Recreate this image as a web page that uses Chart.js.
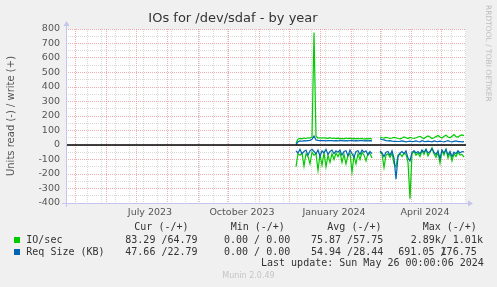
<!DOCTYPE html>
<html>
<head>
<meta charset="utf-8">
<script src="https://cdn.jsdelivr.net/npm/chart.js@4.4.0/dist/chart.umd.min.js"></script>
<style>
  html, body { margin: 0; padding: 0; background: #f0f0f0; }
  #wrap { position: relative; width: 497px; height: 287px; overflow: hidden; background: #f0f0f0; }
  #chart { position: absolute; left: 0; top: 0; }
  .t { position: absolute; font: 10px "DejaVu Sans Mono", monospace; color: #333; white-space: pre; line-height: 12px; }
  .sq { position: absolute; width: 6px; height: 6px; }
  #rrd { position: absolute; left: 492px; top: 5px; transform-origin: top left; transform: rotate(90deg);
         font: 7.5px "DejaVu Sans", sans-serif; line-height: 8px; color: #bdbdbd; white-space: pre; }
  #munin { position: absolute; left: 0; width: 497px; top: 271px; text-align: center;
           font: 8px "DejaVu Sans", sans-serif; line-height: 10px; color: #c4c4c4; }
</style>
</head>
<body>
<div id="wrap">
  <canvas id="chart" width="497" height="287"></canvas>
  <div id="rrd">RRDTOOL / TOBI OETIKER</div>

  <div class="t" style="left:134.3px; top:221px">Cur (-/+)</div>
  <div class="t" style="left:230.7px; top:221px">Min (-/+)</div>
  <div class="t" style="left:327.3px; top:221px">Avg (-/+)</div>
  <div class="t" style="left:422.7px; top:221px">Max (-/+)</div>

  <div class="sq" style="left:14px; top:237px; background:#00cc00"></div>
  <div class="t" style="left:26.3px; top:234px">IO/sec</div>
  <div class="t" style="left:125.3px; top:234px">83.29 /64.79</div>
  <div class="t" style="left:224px; top:234px">0.00 / 0.00</div>
  <div class="t" style="left:311px; top:234px">75.87 /57.75</div>
  <div class="t" style="left:410.7px; top:234px">2.89k/ 1.01k</div>

  <div class="sq" style="left:14px; top:249px; background:#0066b3"></div>
  <div class="t" style="left:26.3px; top:246px">Req Size (KB)</div>
  <div class="t" style="left:125.3px; top:246px">47.66 /22.79</div>
  <div class="t" style="left:224px; top:246px">0.00 / 0.00</div>
  <div class="t" style="left:311px; top:246px">54.94 /28.44</div>
  <div class="t" style="left:398.3px; top:246px">691.05 /</div>
  <div class="t" style="left:440.6px; top:246px">176.75</div>

  <div class="t" style="left:261px; top:257px">Last update: Sun May 26 00:00:06 2024</div>
  <div id="munin">Munin 2.0.49</div>
</div>

<script>
// days counted from the left edge of the 400-day window (22 Apr 2023)
const firstDay = 230;
const stepDays = 2;

// IO/sec, write side (+) and read side (-)
const ioWrite = [15, 40, 45, 42, 48, 45, 50, 47, 55, 775, 60, 48, 50, 47, 50, 48, 46, 50, 45, 48,
                 44, 47, 43, 46, 42, 48, 44, 47, 43, 45, 42, 46, 43, 45, 40, 44, 42, 45, 40,
                 null, null, null,
                 55, 50, 48, 52, 50, 45, 48, 52, 50, 45, 42, 48, 55, 50, 45, 52, 48, 45, 50, 55,
                 60, 50, 45, 55, 62, 55, 45, 50, 58, 65, 55, 48, 60, 68, 55, 50, 60, 72, 58, 55,
                 65, 70, 65];
const ioRead = [-150, -60, -70, -55, -145, -60, -80, -130, -50, -70, -60, -175, -65, -140, -55,
                -150, -70, -120, -60, -100, -55, -80, -50, -120, -65, -130, -70, -60, -185, -75,
                -130, -60, -100, -50, -70, -110, -55, -60, -90,
                null, null, null,
                -50, -60, -155, -70, -60, -85, -55, -130, -150, -70, -60, -80, -55, -65, -120,
                -370, -60, -45, -70, -55, -80, -40, -65, -30, -75, -50, -20, -60, -85, -50,
                -125, -40, -70, -30, -90, -55, -110, -60, -80, -50, -70, -65, -83];

// Req Size (KB), write side (+) and read side (-)
const reqWrite = [5, 22, 28, 26, 30, 28, 30, 32, 40, 62, 35, 32, 30, 31, 30, 29, 30, 31, 30, 28,
                  30, 29, 31, 30, 28, 30, 29, 31, 30, 28, 30, 29, 30, 31, 28, 30, 29, 30, 28,
                  null, null, null,
                  42, 38, 35, 30, 28, 30, 27, 25, 26, 24, 25, 28, 25, 22, 24, 26, 23, 25, 28, 24,
                  22, 30, 25, 23, 26, 24, 22, 28, 25, 23, 27, 24, 22, 26, 30, 24, 22, 25, 28, 23,
                  24, 22, 23];
const reqRead = [-40, -55, -30, -60, -45, -35, -70, -40, -30, -45, -60, -35, -80, -40, -55,
                 -30, -65, -45, -35, -60, -40, -50, -35, -70, -45, -40, -75, -35, -60, -85,
                 -45, -40, -65, -35, -50, -40, -70, -45, -60,
                 null, null, null,
                 -40, -55, -80, -50, -45, -70, -40, -90, -235, -80, -55, -45, -60, -40, -90,
                 -110, -50, -40, -55, -45, -60, -35, -50, -30, -55, -45, -25, -50, -65, -40,
                 -95, -35, -55, -30, -70, -45, -80, -50, -60, -40, -55, -45, -48];

// x axis: month starts (red grid), mid-month label positions
const monthStartDays = [9, 40, 70, 101, 132, 162, 193, 223, 254, 285, 314, 345, 375];
const labelDays = [84, 176, 268, 359];
const labelTexts = ['July 2023', 'October 2023', 'January 2024', 'April 2024'];

// y axis
const yMin = -400, yMax = 800, yMinorStep = 50, yMajorStep = 100;

const MAJOR = 'rgba(225,110,110,0.55)';
const MINOR = 'rgba(170,170,170,0.45)';
const AXIS = '#c4c4ee';

const toPoints = vals => vals.map((v, i) => ({ x: firstDay + i * stepDays, y: v }));

const xKind = new Map();
for (let d = 21.5; d < 400; d += 14) xKind.set(d, 'minor');
monthStartDays.forEach(d => xKind.set(d, 'major'));
labelDays.forEach((d, i) => xKind.set(d, labelTexts[i]));

const munBg = {
    id: 'munBg',
    beforeDraw(chart) {
        const { ctx, chartArea: a } = chart;
        ctx.save();
        ctx.fillStyle = '#f0f0f0';
        ctx.fillRect(0, 0, chart.width, chart.height);
        ctx.fillStyle = '#ffffff';
        ctx.fillRect(a.left, a.top, a.right - a.left, a.bottom - a.top);
        ctx.restore();
    },
    afterDatasetsDraw(chart) {
        const { ctx, chartArea: a } = chart;
        const y0 = chart.scales.y.getPixelForValue(0);
        ctx.save();
        // zero line
        ctx.strokeStyle = '#000';
        ctx.lineWidth = 1.6;
        ctx.beginPath();
        ctx.moveTo(a.left, y0);
        ctx.lineTo(a.right, y0);
        ctx.stroke();
        // axes with arrows
        ctx.strokeStyle = AXIS;
        ctx.fillStyle = AXIS;
        ctx.lineWidth = 1;
        ctx.beginPath();
        ctx.moveTo(a.left + 0.5, a.bottom + 4);
        ctx.lineTo(a.left + 0.5, a.top - 5);
        ctx.moveTo(a.left - 4, a.bottom + 0.5);
        ctx.lineTo(a.right + 3, a.bottom + 0.5);
        ctx.stroke();
        ctx.beginPath();
        ctx.moveTo(a.left + 0.5, a.top - 8);
        ctx.lineTo(a.left - 2.5, a.top - 3);
        ctx.lineTo(a.left + 3.5, a.top - 3);
        ctx.closePath();
        ctx.fill();
        ctx.beginPath();
        ctx.moveTo(a.right + 7, a.bottom + 0.5);
        ctx.lineTo(a.right + 2, a.bottom - 2.5);
        ctx.lineTo(a.right + 2, a.bottom + 3.5);
        ctx.closePath();
        ctx.fill();
        ctx.restore();
    }
};

const lineDs = (label, vals, color) => ({
    label: label,
    data: toPoints(vals),
    borderColor: color,
    borderWidth: 1.2,
    pointRadius: 0,
    tension: 0,
    spanGaps: false,
    fill: false
});

new Chart(document.getElementById('chart'), {
    type: 'line',
    data: {
        datasets: [
            lineDs('Req Size write', reqWrite, '#0066b3'),
            lineDs('Req Size read', reqRead, '#0066b3'),
            lineDs('IO/sec write', ioWrite, '#00cc00'),
            lineDs('IO/sec read', ioRead, '#00cc00')
        ]
    },
    options: {
        responsive: false,
        devicePixelRatio: 1,
        animation: false,
        layout: { padding: { left: 0, right: 31, top: 0, bottom: 64 } },
        plugins: {
            legend: { display: false },
            tooltip: { enabled: false },
            title: {
                display: true,
                text: 'IOs for /dev/sdaf - by year',
                color: '#333',
                font: { family: 'DejaVu Sans', size: 13, weight: 'normal' },
                padding: { top: 11, bottom: 2.4 }
            }
        },
        scales: {
            x: {
                type: 'linear',
                min: 0,
                max: 400,
                afterBuildTicks: scale => {
                    scale.ticks = Array.from(xKind.keys()).sort((p, q) => p - q).map(v => ({ value: v }));
                },
                afterFit: scale => { scale.height = 20; },
                grid: {
                    drawTicks: false,
                    lineWidth: 1,
                    color: c => {
                        const k = xKind.get(c.tick && c.tick.value);
                        return k === 'major' ? MAJOR : k === 'minor' ? MINOR : 'rgba(0,0,0,0)';
                    }
                },
                border: { display: false, dash: [1, 1] },
                ticks: {
                    autoSkip: false,
                    maxRotation: 0,
                    padding: 4,
                    color: '#555',
                    font: { family: 'DejaVu Sans', size: 9.5 },
                    callback: v => {
                        const k = xKind.get(v);
                        return (k === 'major' || k === 'minor') ? '' : k;
                    }
                }
            },
            y: {
                type: 'linear',
                min: yMin,
                max: yMax,
                afterBuildTicks: scale => {
                    const t = [];
                    for (let v = yMin; v <= yMax; v += yMinorStep) t.push({ value: v });
                    scale.ticks = t;
                },
                afterFit: scale => { scale.width = 66; },
                grid: {
                    drawTicks: false,
                    lineWidth: 1,
                    color: c => (c.tick && c.tick.value % yMajorStep === 0) ? MAJOR : MINOR
                },
                border: { display: false, dash: [1, 1] },
                ticks: {
                    autoSkip: false,
                    padding: 6,
                    color: '#555',
                    font: { family: 'DejaVu Sans', size: 9.5 },
                    callback: v => (v % yMajorStep === 0 ? String(v) : '')
                },
                title: {
                    display: true,
                    text: 'Units read (-) / write (+)',
                    color: '#555',
                    font: { family: 'DejaVu Sans', size: 10 },
                    padding: { top: 5, bottom: 0 }
                }
            }
        }
    },
    plugins: [munBg]
});
</script>
</body>
</html>
